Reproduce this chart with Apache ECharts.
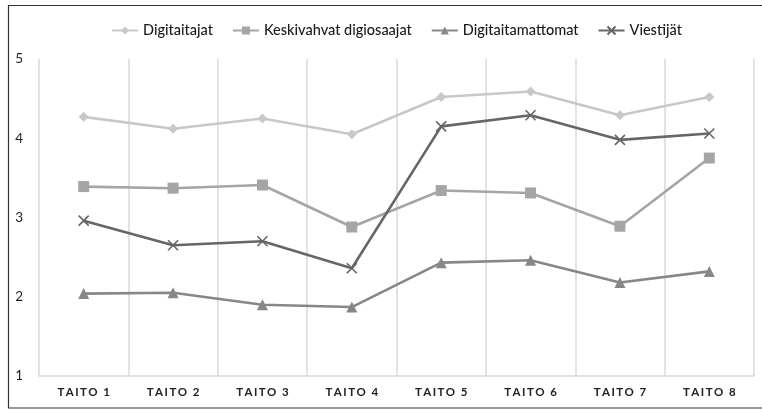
<!DOCTYPE html>
<html><head><meta charset="utf-8">
<script src="https://cdn.jsdelivr.net/npm/echarts@6/dist/echarts.min.js"></script>
<style>html,body{margin:0;padding:0;background:#fff}#c{width:762px;height:410px}</style>
</head><body><div id="c"></div>
<script>
const categories = ['TAITO 1','TAITO 2','TAITO 3','TAITO 4','TAITO 5','TAITO 6','TAITO 7','TAITO 8'];
const seriesNames = ['Digitaitajat','Keskivahvat digiosaajat','Digitaitamattomat','Viestijät'];
const digitaitajat = [4.27, 4.12, 4.25, 4.05, 4.52, 4.59, 4.29, 4.52];
const keskivahvat = [3.39, 3.37, 3.41, 2.88, 3.34, 3.31, 2.89, 3.75];
const digitaitamattomat = [2.04, 2.05, 1.90, 1.87, 2.43, 2.46, 2.18, 2.32];
const viestijat = [2.96, 2.65, 2.70, 2.36, 4.15, 4.29, 3.98, 4.06];
const yTicks = [1, 2, 3, 4, 5];

const font = 'Lato, "Open Sans", sans-serif';
const chart = echarts.init(document.getElementById('c'));
function mk(name, data, color, symbol, size, extra) {
  return Object.assign({
    name, type: 'line', data, symbol, symbolSize: size,
    lineStyle: { color, width: 2.6 },
    itemStyle: { color },
    emphasis: { disabled: true }
  }, extra || {});
}
chart.setOption({
  animation: false,
  textStyle: { fontFamily: font },
  graphic: [{
    type: 'rect', shape: { x: 8.5, y: 5.5, width: 800, height: 402.5 },
    style: { fill: null, stroke: '#333', lineWidth: 1.2 }, silent: true
  }],
  legend: {
    top: 18, left: 106, itemWidth: 26, itemHeight: 10, itemGap: 19,
    textStyle: { fontFamily: font, fontSize: 14.5, color: '#1a1a1a', fontWeight: 500 },
    data: seriesNames
  },
  grid: { left: 39, right: 8, top: 59, bottom: 34 },
  xAxis: {
    type: 'category', data: categories, boundaryGap: true,
    axisLine: { show: true, lineStyle: { color: '#d9d9d9', width: 1.5 } },
    axisTick: { show: false },
    splitLine: { show: true, lineStyle: { color: '#d9d9d9', width: 1.5 } },
    axisLabel: {
      margin: 10, color: '#222', fontSize: 11.5, fontWeight: 'bold', fontFamily: font,
      formatter: v => v.split('').join('\u2009')
    }
  },
  yAxis: {
    type: 'value', min: yTicks[0], max: yTicks[yTicks.length - 1], interval: 1,
    axisLine: { show: false }, axisTick: { show: false },
    splitLine: { show: false },
    axisLabel: { margin: 16, color: '#1e1e1e', fontSize: 13.5, fontFamily: font }
  },
  series: [
    mk(seriesNames[0], digitaitajat, '#c8c8c8', 'diamond', 10),
    mk(seriesNames[1], keskivahvat, '#a5a5a5', 'rect', 11),
    mk(seriesNames[2], digitaitamattomat, '#878787', 'triangle', 11),
    mk(seriesNames[3], viestijat, '#666666', 'path://M0,0L10,10M10,0L0,10', 10,
      { itemStyle: { color: '#666666', borderColor: '#666666', borderWidth: 1.6 } })
  ]
});
</script></body></html>
